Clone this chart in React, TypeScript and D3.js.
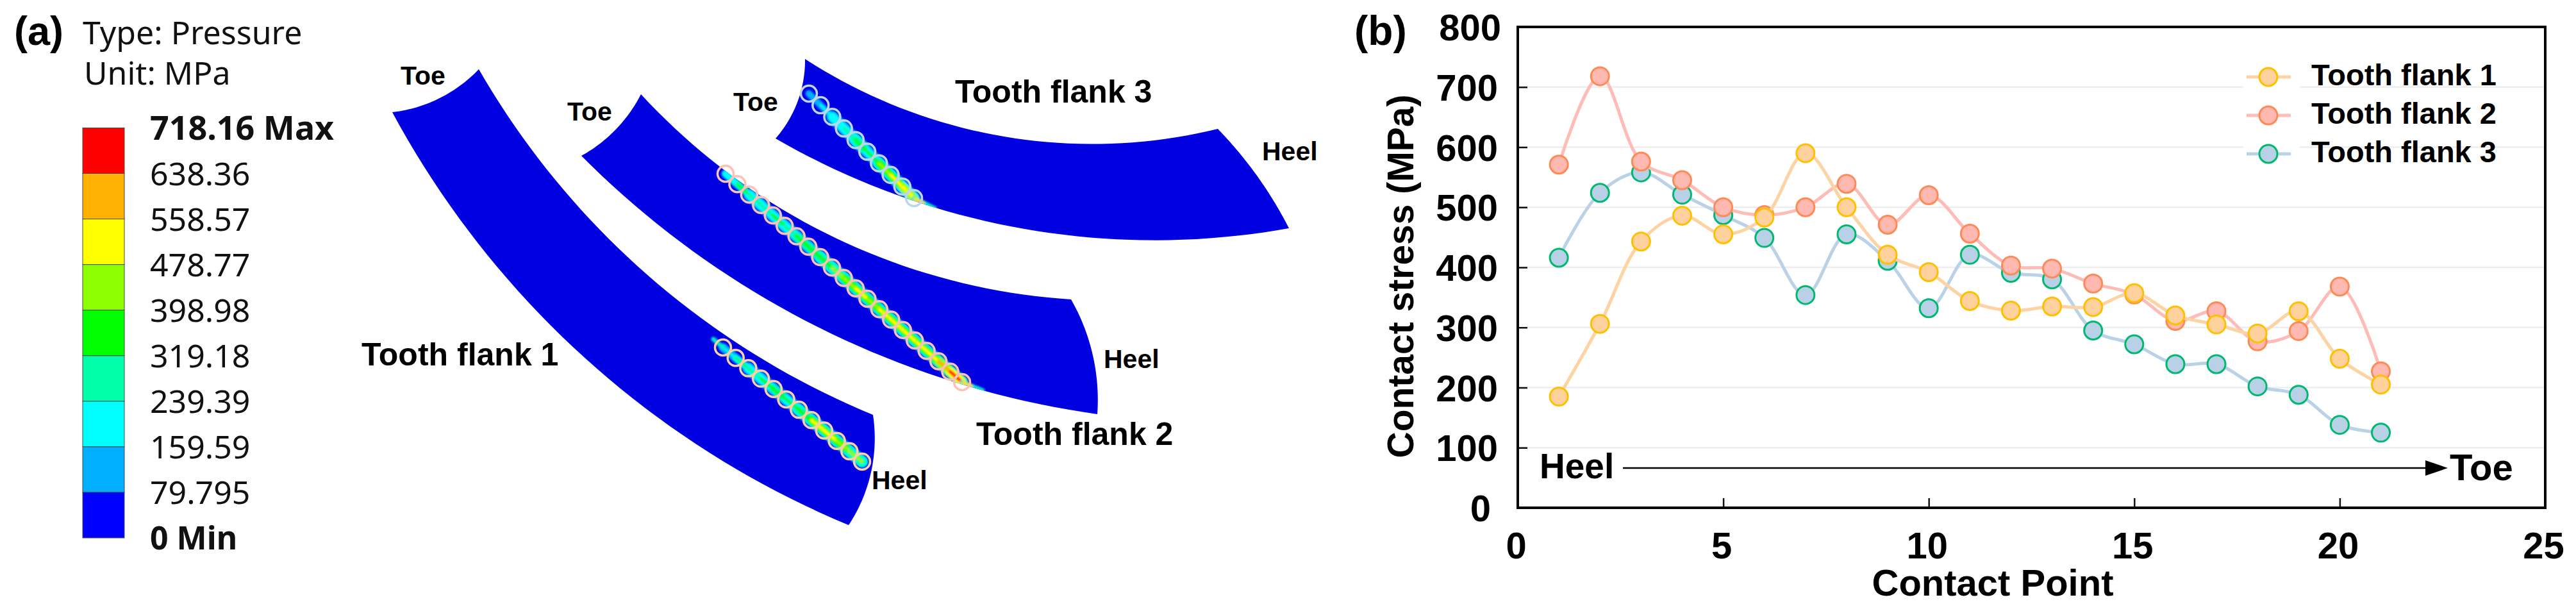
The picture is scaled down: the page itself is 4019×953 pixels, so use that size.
import { useEffect, useRef } from "react";
import * as d3 from "d3";

type Pt = [number, number];

const contactPoints = d3.range(1, 22);
const flank1Stress = [185, 306, 443, 486, 455, 483, 590, 500, 421, 392, 344, 328, 335, 334, 357, 320, 305, 290, 327, 248, 205];
const flank2Stress = [571, 718, 576, 545, 500, 487, 500, 539, 471, 520, 456, 403, 398, 373, 355, 311, 327, 277, 294, 368, 227];
const flank3Stress = [416, 524, 558, 521, 487, 449, 354, 455, 411, 332, 421, 391, 380, 295, 272, 239, 239, 202, 188, 138, 125];

const xTicks = [0, 5, 10, 15, 20, 25];
const yTicks = [0, 100, 200, 300, 400, 500, 600, 700, 800];
const gridValues = [100, 200, 300, 400, 500, 600, 700];

const seriesNames = ["Tooth flank 1", "Tooth flank 2", "Tooth flank 3"];
const seriesLine = ["#fed3a3", "#ffbcb7", "#b9d2e8"];
const seriesFill = ["#ffd19c", "#ffb9b1", "#b9d1e7"];
const seriesStroke = ["#ffc000", "#ff8a55", "#00b870"];

const levelLabels = ["718.16 Max", "638.36", "558.57", "478.77", "398.98", "319.18", "239.39", "159.59", "79.795", "0 Min"];
const levelColors = ["#ff0000", "#ffb000", "#ffff00", "#8cff00", "#00ff00", "#00ffa8", "#00ffff", "#00b0ff", "#0000ff"];
const levelBreaks = [79.795, 159.59, 239.39, 319.18, 398.98, 478.77, 558.57, 638.36];

// outlines of the three flanks, traced from the picture as arcs through 3 points:
// upper, heel, lower, toe edge
const flankEdges: [Pt, Pt, Pt][][] = [
  [
    [[747, 108], [1023, 440], [1362, 647]],
    [[1362, 647], [1364, 703], [1324, 819]],
    [[1324, 819], [898, 545], [612, 175]],
    [[612, 175], [690, 151], [747, 108]],
  ],
  [
    [[1000, 147], [1297, 368], [1671, 467]],
    [[1671, 467], [1700, 535], [1712, 646]],
    [[1712, 646], [1380, 557], [907, 243]],
    [[907, 243], [968, 194], [1000, 147]],
  ],
  [
    [[1256, 92], [1600, 218], [1900, 201]],
    [[1900, 201], [1961, 274], [2011, 356]],
    [[2011, 356], [1629, 362], [1210, 216]],
    [[1210, 216], [1247, 151], [1256, 92]],
  ],
];

// contact track on each flank: toe end, heel end, tail tip, number of probed points
const tracks = [
  { from: [1128, 542] as Pt, to: [1345, 720] as Pt, tail: [1113, 529] as Pt, count: 12, ring: "#fbd0a4", values: flank1Stress },
  { from: [1132, 271] as Pt, to: [1501, 596] as Pt, tail: [1533, 609] as Pt, count: 21, ring: "#fcc2b6", values: flank2Stress },
  { from: [1262, 146] as Pt, to: [1426, 309] as Pt, tail: [1458, 325] as Pt, count: 10, ring: "#bcd6ea", values: flank3Stress },
];

const flankLabels: [string, number, number, number][] = [
  ["Toe", 625, 132, 41], ["Toe", 885, 188, 41], ["Toe", 1144, 173, 41],
  ["Heel", 1360, 763, 41], ["Heel", 1722, 574, 41], ["Heel", 1969, 250, 41],
  ["Tooth flank 1", 564, 570, 50], ["Tooth flank 2", 1523, 694, 50], ["Tooth flank 3", 1490, 160, 50],
];

const ARIAL = "'Liberation Sans', Arial, sans-serif";
const NOTO = "'Noto Sans', sans-serif";

// samples the circle through a, b, c so the flank edges stay perfectly round
function arcPoints([a, b, c]: [Pt, Pt, Pt]): Pt[] {
  const d = 2 * (a[0] * (b[1] - c[1]) + b[0] * (c[1] - a[1]) + c[0] * (a[1] - b[1]));
  const sq = (p: Pt) => p[0] * p[0] + p[1] * p[1];
  const cx = (sq(a) * (b[1] - c[1]) + sq(b) * (c[1] - a[1]) + sq(c) * (a[1] - b[1])) / d;
  const cy = (sq(a) * (c[0] - b[0]) + sq(b) * (a[0] - c[0]) + sq(c) * (b[0] - a[0])) / d;
  const r = Math.hypot(a[0] - cx, a[1] - cy);
  const ang = (p: Pt) => Math.atan2(p[1] - cy, p[0] - cx);
  const a0 = ang(a);
  let a1 = ang(b);
  let a2 = ang(c);
  // keep the sweep going through b
  while (a1 - a0 > Math.PI) a1 -= 2 * Math.PI;
  while (a1 - a0 < -Math.PI) a1 += 2 * Math.PI;
  while (a1 > a0 ? a2 < a1 : a2 > a1) a2 += a1 > a0 ? 2 * Math.PI : -2 * Math.PI;
  return d3.range(0, 41).map(i => {
    const t = a0 + ((a2 - a0) * i) / 40;
    return [cx + r * Math.cos(t), cy + r * Math.sin(t)] as Pt;
  });
}

export default function App() {
  const svgRef = useRef<SVGSVGElement>(null);

  useEffect(() => {
    if (!svgRef.current) return;
    const svg = d3.select(svgRef.current);
    svg.selectAll("*").remove();
    svg.append("rect").attr("width", 4019).attr("height", 953).attr("fill", "#fff");

    const defs = svg.append("defs");
    defs.append("filter").attr("id", "soft")
      .append("feGaussianBlur").attr("stdDeviation", 1.6);

    // ---- panel (a) ----
    svg.append("text").attr("x", 22).attr("y", 70).attr("font-family", ARIAL)
      .attr("font-weight", "bold").attr("font-size", 63).text("(a)");
    svg.append("text").attr("x", 129).attr("y", 69).attr("font-family", NOTO)
      .attr("font-size", 50).attr("fill", "#111").text("Type: Pressure");
    svg.append("text").attr("x", 131).attr("y", 132).attr("font-family", NOTO)
      .attr("font-size", 50).attr("fill", "#111").text("Unit: MPa");

    const barY = d3.scaleLinear().domain([0, levelColors.length]).range([199.5, 839]);
    svg.append("g").selectAll("rect").data(levelColors).join("rect")
      .attr("x", 129).attr("width", 65)
      .attr("y", (_, i) => barY(i))
      .attr("height", (_, i) => barY(i + 1) - barY(i))
      .attr("fill", d => d)
      .attr("stroke", "#4a4a4a").attr("stroke-width", 1);

    svg.append("g").selectAll("text").data(levelLabels).join("text")
      .attr("x", 234)
      .attr("y", (_, i) => barY(i))
      .attr("dy", "0.36em")
      .attr("font-family", NOTO)
      .attr("font-size", (_, i) => (i === 0 ? 52 : 50))
      .attr("font-weight", (_, i) => (i === 0 || i === levelLabels.length - 1 ? "bold" : "normal"))
      .attr("fill", "#111")
      .text(d => d);

    const edgeLine = d3.line<Pt>();
    const outlines = flankEdges.map(edges =>
      edgeLine(edges.flatMap(arcPoints))! + "Z");

    outlines.forEach((d, i) => {
      defs.append("clipPath").attr("id", `flank${i}`).append("path").attr("d", d);
      svg.append("path").attr("d", d).attr("fill", "#0000e0");
    });

    const heat = d3.scaleThreshold<number, string>()
      .domain(levelBreaks)
      .range([...levelColors].reverse());

    tracks.forEach((t, k) => {
      const px = d3.scaleLinear().domain([0, t.count - 1]).range([t.from[0], t.to[0]]);
      const py = d3.scaleLinear().domain([0, t.count - 1]).range([t.from[1], t.to[1]]);
      const ids = d3.range(t.count);
      // probes run toe to heel on the flank, heel to toe in the table
      const stressAt = (i: number) => t.values[Math.round((1 - i / (t.count - 1)) * (t.values.length - 1))];
      const strip = svg.append("g").attr("clip-path", `url(#flank${k})`)
        .append("g").attr("filter", "url(#soft)");
      const layers: [number, number][] = [[19, 0.42], [13, 0.72], [5, 1]];
      layers.forEach(([w, scale]) => {
        strip.append("g").selectAll("line").data(ids.slice(0, -1)).join("line")
          .attr("x1", i => px(i)).attr("y1", i => py(i))
          .attr("x2", i => px(i + 1)).attr("y2", i => py(i + 1))
          .attr("stroke", i => heat(stressAt(i) * scale))
          .attr("stroke-width", i => (i < 2 ? w * 0.7 : w))
          .attr("stroke-linecap", "round");
      });
      // thin tail past the last probe
      const tailFrom: Pt = k === 0 ? t.from : t.to;
      strip.append("line").attr("x1", tailFrom[0]).attr("y1", tailFrom[1])
        .attr("x2", t.tail[0]).attr("y2", t.tail[1])
        .attr("stroke", "#00e8d0").attr("stroke-width", 7).attr("stroke-linecap", "round");
      if (k > 0) {
        strip.append("line").attr("x1", tailFrom[0]).attr("y1", tailFrom[1])
          .attr("x2", (tailFrom[0] + t.tail[0]) / 2).attr("y2", (tailFrom[1] + t.tail[1]) / 2)
          .attr("stroke", "#ffe000").attr("stroke-width", 5);
      }
      svg.append("g").selectAll("circle").data(ids).join("circle")
        .attr("cx", i => px(i)).attr("cy", i => py(i))
        .attr("r", 12.5).attr("fill", "none")
        .attr("stroke", t.ring).attr("stroke-width", 3.5);
    });

    svg.append("g").selectAll("text").data(flankLabels).join("text")
      .attr("x", d => d[1]).attr("y", d => d[2])
      .attr("font-family", ARIAL).attr("font-weight", "bold")
      .attr("font-size", d => d[3]).text(d => d[0]);

    // ---- panel (b) ----
    const left = 2368, right = 3971, top = 42, bottom = 792;
    const x = d3.scaleLinear().domain([0, 25]).range([left, right]);
    const y = d3.scaleLinear().domain([0, 800]).range([bottom, top]);

    svg.append("text").attr("x", 2113).attr("y", 70).attr("font-family", ARIAL)
      .attr("font-weight", "bold").attr("font-size", 64).text("(b)");

    svg.append("g").selectAll("line").data(gridValues).join("line")
      .attr("x1", left).attr("x2", right)
      .attr("y1", d => y(d)).attr("y2", d => y(d))
      .attr("stroke", "#eeeeee").attr("stroke-width", 2.5);

    // legend background hides the grid behind the markers
    svg.append("rect").attr("x", 3500).attr("y", 100).attr("width", 88).attr("height", 160).attr("fill", "#fff");

    const gx = svg.append("g").attr("transform", `translate(0,${bottom})`)
      .call(d3.axisBottom(x).tickValues(xTicks).tickSizeInner(-15).tickSizeOuter(0).tickPadding(38));
    const gy = svg.append("g").attr("transform", `translate(${left},0)`)
      .call(d3.axisLeft(y).tickValues(yTicks).tickSizeInner(-15).tickSizeOuter(0).tickPadding(31));
    [gx, gy].forEach(g => {
      g.select(".domain").remove();
      g.selectAll("line").attr("stroke", "#111").attr("stroke-width", 2.5);
      g.selectAll("text").attr("fill", "#000").attr("font-family", ARIAL)
        .attr("font-weight", "bold").attr("font-size", 58);
    });
    gx.selectAll("text").attr("dx", -3);
    gy.selectAll<SVGTextElement, number>("text")
      .attr("dx", d => (d === 800 ? 5 : d === 0 ? -11 : 0))
      .attr("y", 2);

    svg.append("rect").attr("x", left).attr("y", top).attr("width", right - left).attr("height", bottom - top)
      .attr("fill", "none").attr("stroke", "#000").attr("stroke-width", 4);

    svg.append("text").attr("x", 3109).attr("y", 929).attr("text-anchor", "middle")
      .attr("font-family", ARIAL).attr("font-weight", "bold").attr("font-size", 58).text("Contact Point");
    svg.append("text").attr("transform", "translate(2205,431) rotate(-90)").attr("text-anchor", "middle")
      .attr("font-family", ARIAL).attr("font-weight", "bold").attr("font-size", 57).text("Contact stress (MPa)");

    // heel to toe arrow
    svg.append("text").attr("x", 2402).attr("y", 746).attr("font-family", ARIAL)
      .attr("font-weight", "bold").attr("font-size", 55).text("Heel");
    svg.append("line").attr("x1", 2532).attr("x2", 3790).attr("y1", 730).attr("y2", 730)
      .attr("stroke", "#000").attr("stroke-width", 2.5);
    svg.append("path").attr("d", d3.line()([[3784, 718], [3819, 730], [3784, 742]])! + "Z").attr("fill", "#000");
    svg.append("text").attr("x", 3822).attr("y", 749).attr("font-family", ARIAL)
      .attr("font-weight", "bold").attr("font-size", 58).text("Toe");

    const stressLine = d3.line<number>()
      .x((_, i) => x(contactPoints[i]))
      .y(d => y(d))
      .curve(d3.curveCatmullRom.alpha(0.5));

    const allSeries = [flank1Stress, flank2Stress, flank3Stress];
    // flank 3 goes underneath, flank 1 on top
    [2, 1, 0].forEach(s => {
      const g = svg.append("g");
      g.append("path").attr("d", stressLine(allSeries[s])).attr("fill", "none")
        .attr("stroke", seriesLine[s]).attr("stroke-width", 5);
      g.selectAll("circle").data(allSeries[s]).join("circle")
        .attr("cx", (_, i) => x(contactPoints[i]))
        .attr("cy", d => y(d))
        .attr("r", 14)
        .attr("fill", seriesFill[s])
        .attr("stroke", seriesStroke[s])
        .attr("stroke-width", 3);
    });

    const legendY = d3.scalePoint<string>().domain(seriesNames).range([120, 240]);
    seriesNames.forEach((name, s) => {
      const ly = legendY(name)!;
      svg.append("line").attr("x1", 3505).attr("x2", 3574).attr("y1", ly).attr("y2", ly)
        .attr("stroke", seriesLine[s]).attr("stroke-width", 5);
      svg.append("circle").attr("cx", 3539).attr("cy", ly).attr("r", 14)
        .attr("fill", seriesFill[s]).attr("stroke", seriesStroke[s]).attr("stroke-width", 3);
      svg.append("text").attr("x", 3606).attr("y", ly + 13).attr("font-family", ARIAL)
        .attr("font-weight", "bold").attr("font-size", 47).text(name);
    });
  }, []);

  return (
    <svg ref={svgRef} width={4019} height={953} style={{ position: "absolute", left: 0, top: 0, display: "block" }} />
  );
}
